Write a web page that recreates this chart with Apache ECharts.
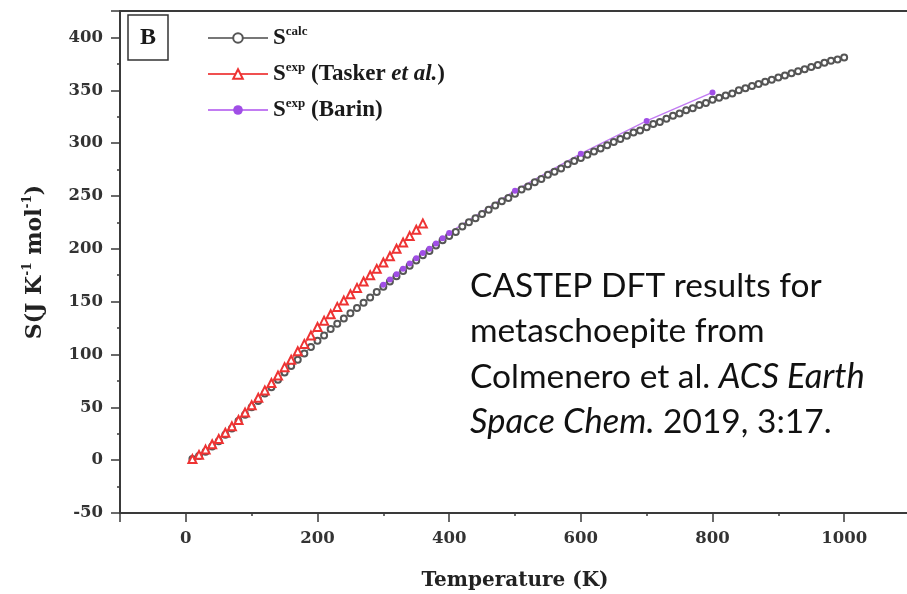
<!DOCTYPE html>
<html>
<head>
	<meta charset="utf-8">
	<script src="https://cdn.jsdelivr.net/npm/echarts@6/dist/echarts.min.js"></script>
	<style>
		html, body { margin: 0; padding: 0; background: #fff; }
		#chart { width: 907px; height: 594px; }
	</style>
</head>
<body>
	<div id="chart"></div>
	<script>
	// S calc (circles), every 10 K
	var calcT = [10,20,30,40,50,60,70,80,90,100,110,120,130,140,150,160,170,180,190,200,
		210,220,230,240,250,260,270,280,290,300,310,320,330,340,350,360,370,380,390,400,
		410,420,430,440,450,460,470,480,490,500,510,520,530,540,550,560,570,580,590,600,
		610,620,630,640,650,660,670,680,690,700,710,720,730,740,750,760,770,780,790,800,
		810,820,830,840,850,860,870,880,890,900,910,920,930,940,950,960,970,980,990,1000];
	var calcS = [1,4,8,13,18,24,30,37,43,50,56,63,69,76,83,89,95,101,107,113,
		118,124,129,134,139,144,149,154,159,164,169,174,179,184,189,194,198,203,208,212,
		216,221,225,229,233,237,241,245,248,252,256,259,263,266,270,273,276,280,283,286,
		289,292,295,298,301,304,307,310,312,315,318,320,323,326,328,331,333,336,338,341,
		343,345,347,350,352,354,356,358,360,362,364,366,368,370,372,374,376,378,379,381];
	// S exp, Tasker et al. (triangles)
	var taskerT = [10,20,30,40,50,60,70,80,90,100,110,120,130,140,150,160,170,180,
		190,200,210,220,230,240,250,260,270,280,290,300,310,320,330,340,350,360];
	var taskerS = [1,5,10,15,20,26,32,38,45,52,59,66,73,80,88,95,103,110,
		118,126,132,138,145,151,157,163,169,175,181,187,193,200,206,212,218,224];
	// S exp, Barin (dots)
	var barinT = [300,310,320,330,340,350,360,370,380,390,400,500,600,700,800];
	var barinS = [166,171,176,181,186,191,196,200,205,210,215,255,290,321,348];

	var xLabels = [0,200,400,600,800,1000];
	var yLabels = [-50,0,50,100,150,200,250,300,350,400];

	function pairs(xs, ys) {
		var out = [];
		for (var i = 0; i < xs.length; i++) out.push([xs[i], ys[i]]);
		return out;
	}

	var serif = 'Liberation Serif';
	var tickFont = { fontFamily: 'DejaVu Serif', fontWeight: 'bold', fontSize: 16.5, color: '#333' };
	var axisColor = '#3a3a3a';

	// second axis on the same side, only for the long ticks at the labelled values
	function majorAxis(base, pos) {
		return Object.assign({
			type: 'value', position: pos,
			axisLine: { show: true, onZero: false, lineStyle: { color: axisColor, width: 2 } },
			axisTick: { show: true, inside: false, length: 9, lineStyle: { color: axisColor, width: 1.5 } },
			axisLabel: { show: true, color: 'rgba(0,0,0,0)', formatter: function () { return ' '; } },
			splitLine: { show: false }
		}, base);
	}

	var chart = echarts.init(document.getElementById('chart'));
	chart.setOption({
		animation: false,
		backgroundColor: '#fff',
		grid: {
			left: 120, right: -3, top: 11, bottom: 81, outerBoundsMode: 'none', containLabel: false,
			show: true, borderColor: axisColor, borderWidth: 2
		},
		legend: {
			orient: 'vertical', left: 202, top: 20, itemWidth: 60, itemHeight: 12, itemGap: 10,
			selectedMode: false,
			data: ['calc', 'tasker', 'barin'],
			formatter: function (name) {
				return {
					calc: '{b|S}{sup|calc}',
					tasker: '{b|S}{sup|exp}{b| (Tasker }{it|et al.}{b|)}',
					barin: '{b|S}{sup|exp}{b| (Barin)}'
				}[name];
			},
			textStyle: {
				fontFamily: serif, fontWeight: 'bold', fontSize: 23, color: '#1a1a1a', lineHeight: 26,
				rich: {
					b: { fontFamily: serif, fontWeight: 'bold', fontSize: 23, lineHeight: 26, color: '#1a1a1a' },
					it: { fontFamily: serif, fontWeight: 'bold', fontStyle: 'italic', fontSize: 23, lineHeight: 26, color: '#1a1a1a' },
					sup: { fontFamily: serif, fontWeight: 'bold', fontSize: 13, lineHeight: 13, verticalAlign: 'top', color: '#1a1a1a' }
				}
			}
		},
		xAxis: [majorAxis({ min: -100, max: 1100, splitNumber: 6 }, 'bottom'), {
			type: 'value', min: -100, max: 1100, interval: 100, position: 'bottom',
			axisLine: { show: true, onZero: false, lineStyle: { color: axisColor, width: 2 } },
			axisTick: { show: true, length: 3, lineStyle: { color: axisColor, width: 1.5 } },
			axisLabel: Object.assign({ margin: 17, formatter: function (v) {
				return xLabels.indexOf(v) >= 0 ? String(v) : '';
			} }, tickFont),
			splitLine: { show: false },
			name: 'Temperature (K)', nameLocation: 'middle', nameGap: 58,
			nameTextStyle: { fontFamily: 'DejaVu Serif', fontWeight: 'bold', fontSize: 20, color: '#222' }
		}],
		yAxis: [majorAxis({ min: -50, max: 425, interval: 50 }, 'left'), {
			type: 'value', min: -50, max: 425, interval: 25, position: 'left',
			axisLine: { show: true, onZero: false, lineStyle: { color: axisColor, width: 2 } },
			axisTick: { show: true, length: 3, lineStyle: { color: axisColor, width: 1.5 } },
			axisLabel: Object.assign({ margin: 17, formatter: function (v) {
				return yLabels.indexOf(v) >= 0 ? String(v) : '';
			} }, tickFont),
			splitLine: { show: false },
			name: 'S(J K{sup|-1} mol{sup|-1})', nameLocation: 'middle', nameGap: 72,
			nameTextStyle: {
				fontFamily: 'DejaVu Serif', fontWeight: 'bold', fontSize: 22, color: '#222', lineHeight: 26,
				rich: {
					sup: { fontFamily: 'DejaVu Serif', fontWeight: 'bold', fontSize: 12, lineHeight: 12, verticalAlign: 'top', color: '#222' }
				}
			}
		}],
		graphic: [{
			type: 'rect', shape: { x: 128, y: 15, width: 40, height: 45 },
			style: { fill: '#fff', stroke: '#333', lineWidth: 1.5 }
		}, {
			type: 'text', x: 148, y: 38,
			style: { text: 'B', fontFamily: serif, fontWeight: 'bold', fontSize: 24, fill: '#1a1a1a', align: 'center', verticalAlign: 'middle' }
		}, {
			type: 'text', left: 470, top: 263,
			style: {
				text: 'CASTEP DFT results for\nmetaschoepite from\nColmenero et al. {i|ACS Earth}\n{i|Space Chem.} 2019, 3:17.',
				fontFamily: 'Lato', fontSize: 33.5, lineHeight: 45.5, fill: '#111',
				rich: { i: { fontFamily: 'Lato', fontStyle: 'italic', fontSize: 34.5, lineHeight: 45.5, fill: '#111' } }
			}
		}],
		series: [{
			name: 'calc', type: 'line', data: pairs(calcT, calcS),
			symbol: 'emptyCircle', symbolSize: 6,
			itemStyle: { color: '#555', borderWidth: 1.2 },
			lineStyle: { color: '#777', width: 1 }
		}, {
			name: 'tasker', type: 'line', data: pairs(taskerT, taskerS),
			symbol: 'emptyTriangle', symbolSize: 8,
			itemStyle: { color: '#ee3333', borderWidth: 1.3 },
			lineStyle: { color: '#f05050', width: 1.2 }
		}, {
			name: 'barin', type: 'line', data: pairs(barinT, barinS),
			symbol: 'circle', symbolSize: 6,
			itemStyle: { color: '#a04ee6' },
			lineStyle: { color: '#c27cf2', width: 1.5 }
		}]
	});
	</script>
</body>
</html>
